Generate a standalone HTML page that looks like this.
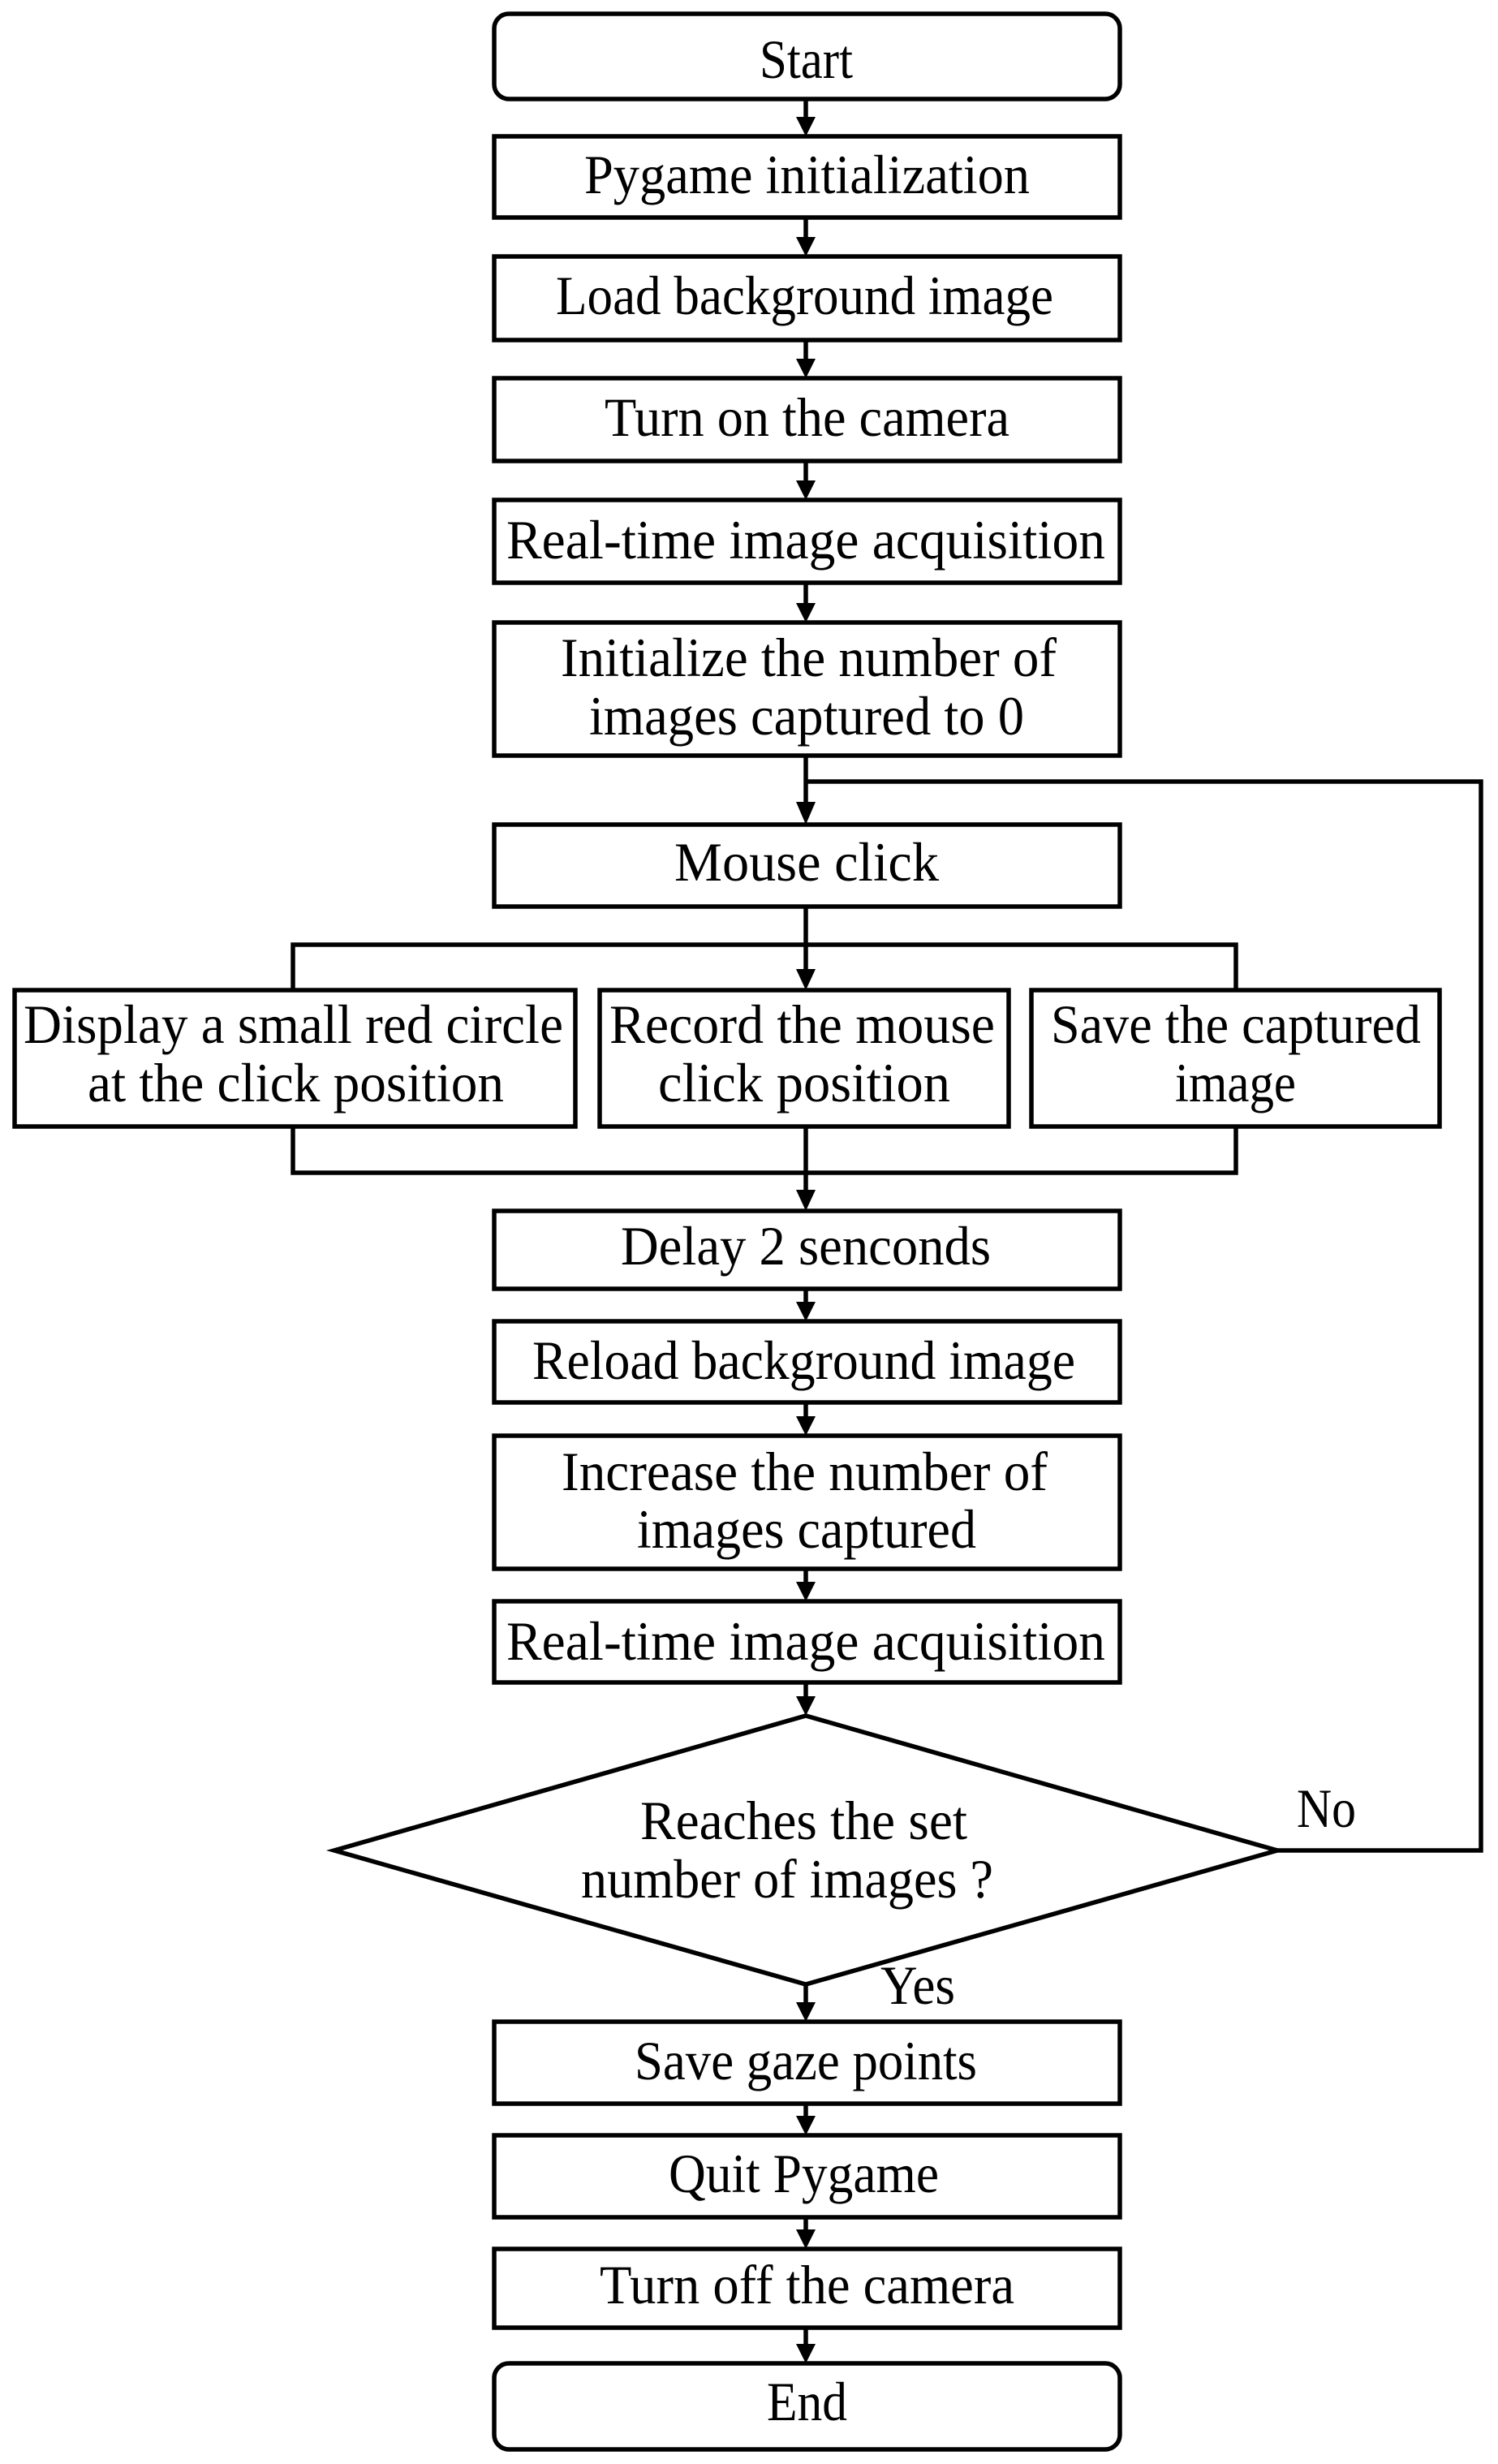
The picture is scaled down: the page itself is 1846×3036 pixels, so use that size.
<!DOCTYPE html>
<html><head><meta charset="utf-8"><style>html,body{margin:0;padding:0;background:#fff}svg{display:block}</style></head>
<body>
<svg width="1846" height="3036" viewBox="0 0 1846 3036" xmlns="http://www.w3.org/2000/svg" font-family="'Liberation Serif', serif" font-size="68" fill="#000">
<g fill="none" stroke="#000" stroke-width="5.5">
<rect x="609" y="17" width="771" height="105" rx="18"/>
<rect x="609" y="168" width="771" height="100"/>
<rect x="609" y="316" width="771" height="103"/>
<rect x="609" y="466" width="771" height="102"/>
<rect x="609" y="616" width="771" height="102"/>
<rect x="609" y="767" width="771" height="164"/>
<rect x="609" y="1016" width="771" height="101"/>
<rect x="18" y="1220" width="691" height="168"/>
<rect x="739" y="1220" width="504" height="168"/>
<rect x="1271" y="1220" width="503" height="168"/>
<rect x="609" y="1492" width="771" height="96"/>
<rect x="609" y="1628" width="771" height="100"/>
<rect x="609" y="1769" width="771" height="164"/>
<rect x="609" y="1973" width="771" height="100"/>
<polygon points="993,2114 1574,2280 993,2445 412,2280"/>
<rect x="609" y="2491" width="771" height="101"/>
<rect x="609" y="2631" width="771" height="101"/>
<rect x="609" y="2771" width="771" height="97"/>
<rect x="609" y="2912" width="771" height="106" rx="18"/>
<!-- connectors -->
<path d="M993 122V146M993 268V294M993 419V444M993 568V594M993 718V745M993 931V994M993 1117V1198M993 1388V1470M993 1588V1606M993 1728V1747M993 1933V1951M993 2073V2092M993 2445V2469M993 2592V2609M993 2732V2749M993 2868V2890"/>
<path d="M993 963H1825V2280H1574"/>
<path d="M361 1220V1164H1523V1220"/>
<path d="M361 1388V1445H1523V1388"/>
</g>
<g fill="#000">
<polygon points="981,144 1005,144 993,168"/>
<polygon points="981,292 1005,292 993,316"/>
<polygon points="981,442 1005,442 993,466"/>
<polygon points="981,592 1005,592 993,616"/>
<polygon points="981,743 1005,743 993,767"/>
<polygon points="981,988 1005,988 993,1016"/>
<polygon points="981,1194 1005,1194 993,1220"/>
<polygon points="981,1466 1005,1466 993,1492"/>
<polygon points="981,1604 1005,1604 993,1628"/>
<polygon points="981,1745 1005,1745 993,1769"/>
<polygon points="981,1949 1005,1949 993,1973"/>
<polygon points="981,2090 1005,2090 993,2114"/>
<polygon points="981,2467 1005,2467 993,2491"/>
<polygon points="981,2607 1005,2607 993,2631"/>
<polygon points="981,2747 1005,2747 993,2771"/>
<polygon points="981,2888 1005,2888 993,2912"/>
</g>
<g lengthAdjust="spacingAndGlyphs">
<text x="936" y="96" textLength="115" lengthAdjust="spacingAndGlyphs">Start</text>
<text x="720" y="238" textLength="549" lengthAdjust="spacingAndGlyphs">Pygame initialization</text>
<text x="685" y="387" textLength="613" lengthAdjust="spacingAndGlyphs">Load background image</text>
<text x="745" y="537" textLength="499" lengthAdjust="spacingAndGlyphs">Turn on the camera</text>
<text x="624" y="688" textLength="738" lengthAdjust="spacingAndGlyphs">Real-time image acquisition</text>
<text x="691" y="833" textLength="611" lengthAdjust="spacingAndGlyphs">Initialize the number of</text>
<text x="726" y="905" textLength="536" lengthAdjust="spacingAndGlyphs">images captured to 0</text>
<text x="831" y="1085" textLength="326" lengthAdjust="spacingAndGlyphs">Mouse click</text>
<text x="29" y="1285" textLength="665" lengthAdjust="spacingAndGlyphs">Display a small red circle</text>
<text x="108" y="1357" textLength="513" lengthAdjust="spacingAndGlyphs">at the click position</text>
<text x="751" y="1285" textLength="475" lengthAdjust="spacingAndGlyphs">Record the mouse</text>
<text x="811" y="1357" textLength="360" lengthAdjust="spacingAndGlyphs">click position</text>
<text x="1295" y="1285" textLength="456" lengthAdjust="spacingAndGlyphs">Save the captured</text>
<text x="1448" y="1357" textLength="149" lengthAdjust="spacingAndGlyphs">image</text>
<text x="765" y="1558" textLength="456" lengthAdjust="spacingAndGlyphs">Delay 2 senconds</text>
<text x="656" y="1699" textLength="669" lengthAdjust="spacingAndGlyphs">Reload background image</text>
<text x="692" y="1836" textLength="599" lengthAdjust="spacingAndGlyphs">Increase the number of</text>
<text x="785" y="1907" textLength="418" lengthAdjust="spacingAndGlyphs">images captured</text>
<text x="624" y="2045" textLength="738" lengthAdjust="spacingAndGlyphs">Real-time image acquisition</text>
<text x="789" y="2266" textLength="403" lengthAdjust="spacingAndGlyphs">Reaches the set</text>
<text x="716" y="2338" textLength="508" lengthAdjust="spacingAndGlyphs">number of images ?</text>
<text x="1598" y="2251" textLength="73" lengthAdjust="spacingAndGlyphs">No</text>
<text x="1085" y="2469" textLength="92" lengthAdjust="spacingAndGlyphs">Yes</text>
<text x="782" y="2562" textLength="422" lengthAdjust="spacingAndGlyphs">Save gaze points</text>
<text x="824" y="2701" textLength="333" lengthAdjust="spacingAndGlyphs">Quit Pygame</text>
<text x="739" y="2838" textLength="511" lengthAdjust="spacingAndGlyphs">Turn off the camera</text>
<text x="945" y="2982" textLength="99" lengthAdjust="spacingAndGlyphs">End</text>
</g>
</svg>
</body></html>
